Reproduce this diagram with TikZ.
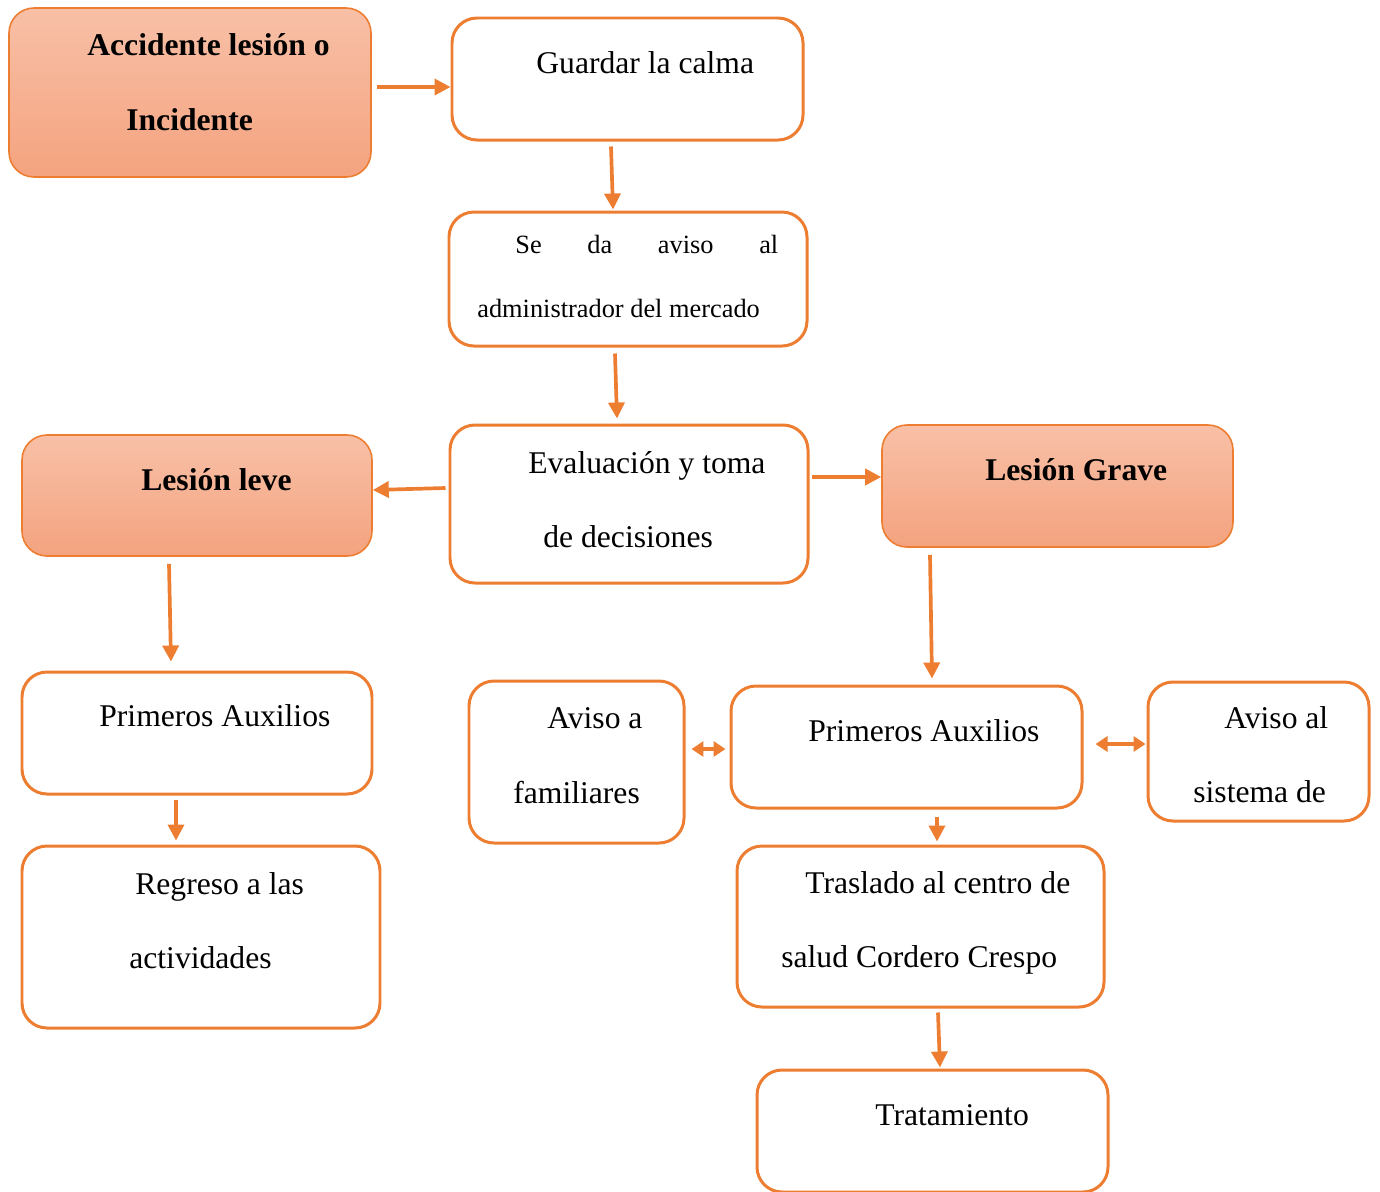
\documentclass[tikz,border=0pt]{standalone}
\usepackage{fontspec}
\setmainfont{Liberation Serif}
\usetikzlibrary{arrows.meta,calc}
\definecolor{accent}{HTML}{ED7D31}
\definecolor{peachtop}{HTML}{F8C0A7}
\definecolor{peachbot}{HTML}{F4A37F}
\begin{document}
\begin{tikzpicture}[x=0.02cm,y=-0.02cm,
  sz/.style 2 args={minimum width={#1*0.02cm},minimum height={#2*0.02cm}},
  box/.style={draw=accent,line width=1.7pt,rounded corners=0.5cm,inner sep=0pt,fill=white},
  hot/.style={box,line width=0.9pt,top color=peachtop,bottom color=peachbot},
  txt/.style={anchor=base west,inner sep=0pt,font=\fontsize{18}{20}\selectfont},
  btxt/.style={txt,font=\fontsize{18}{20}\selectfont\bfseries},
  stxt/.style={anchor=base west,inner sep=0pt,font=\fontsize{15}{17}\selectfont},
  arr/.style={draw=accent,line width=2.1pt,-{Triangle[length=0.32cm,width=0.32cm]}},
  darr/.style={draw=accent,line width=2.1pt,{Triangle[length=0.24cm,width=0.3cm]}-{Triangle[length=0.24cm,width=0.3cm]}}
]
\useasboundingbox (0,0) rectangle (1380,1191);

% boxes
\node[hot,sz={362}{169}] (acc) at (190,92.5) {};
\node[box,sz={351}{122}] (gua) at (627.5,79) {};
\node[box,sz={358}{134}] (ses) at (628,279) {};
\node[box,sz={358}{158}] (eva) at (629,504) {};
\node[hot,sz={350}{121}] (lev) at (197,495.5) {};
\node[hot,sz={351}{122}] (gra) at (1057.5,486) {};
\node[box,sz={350}{122}] (pal) at (197,733) {};
\node[box,sz={358}{182}] (reg) at (201,937) {};
\node[box,sz={215}{162}] (fam) at (576.5,762) {};
\node[box,sz={351}{122}] (par) at (906.5,747) {};
\node[box,sz={221}{139}] (sis) at (1258.5,751.5) {};
\node[box,sz={367}{161}] (tra) at (920.5,926.5) {};
\node[box,sz={351}{122}] (trt) at (932.5,1131) {};

% texts
\node[btxt] (acc1) at (87,55) {Accidente lesión o};
\node[btxt] (acc2) at (126,130) {Incidente};
\node[txt] (gua1) at (536,73) {Guardar la calma};
\node[stxt] (ses1) at (515,253) {\makebox[5.26cm][s]{Se\hfill da\hfill aviso\hfill al}};
\node[stxt] (ses2) at (477,317) {administrador del mercado};
\node[txt] (eva1) at (528,473) {Evaluación y toma};
\node[txt] (eva2) at (543,547) {de decisiones};
\node[btxt] (lev1) at (141,490) {Lesión leve};
\node[btxt] (gra1) at (985,480) {Lesión Grave};
\node[txt] (pal1) at (99,726) {Primeros Auxilios};
\node[txt] (reg1) at (135,894) {Regreso a las};
\node[txt] (reg2) at (129,968) {actividades};
\node[txt] (fam1) at (547,728) {Aviso a};
\node[txt] (fam2) at (513,803) {familiares};
\node[txt] (par1) at (808,741) {Primeros Auxilios};
\node[txt] (sis1) at (1224,728) {Aviso al};
\node[txt] (sis2) at (1193,802) {sistema de};
\node[txt] (tra1) at (805,893) {Traslado al centro de};
\node[txt] (tra2) at (781,967) {salud Cordero Crespo};
\node[txt] (trt1) at (875,1125) {Tratamiento};

% connectors
\draw[arr] ($(acc.east)+(5,-5.5)$) -- ($(gua.west)+(0,8)$);
\draw[arr] ($(gua.south)+(-16.5,5)$) -- ($(ses.north)+(-15,-1)$);
\draw[arr] ($(ses.south)+(-13,6)$) -- ($(eva.north)+(-12,-5)$);
\draw[arr] ($(eva.west)+(-3,-16)$) -- ($(lev.east)+(0,-5.5)$);
\draw[arr] ($(eva.east)+(2,-27)$) -- ($(gra.west)+(0,-9)$);
\draw[arr] ($(lev.south)+(-28,7)$) -- ($(pal.north)+(-26,-9)$);
\draw[arr] ($(gra.south)+(-127.5,7)$) -- ($(par.north)+(25.5,-6)$);
\draw[arr] ($(pal.south)+(-21,4)$) -- ($(reg.north)+(-25,-4)$);
\draw[darr] ($(fam.east)+(6,-13)$) -- ($(par.west)+(-4,2)$);
\draw[darr] ($(par.east)+(12,-3)$) -- ($(sis.west)+(-1,-7.5)$);
\draw[arr] ($(par.south)+(30.5,7)$) -- ($(tra.north)+(16.5,-3)$);
\draw[arr] ($(tra.south)+(17.5,4)$) -- ($(trt.north)+(7.5,-1)$);
\end{tikzpicture}
\end{document}
